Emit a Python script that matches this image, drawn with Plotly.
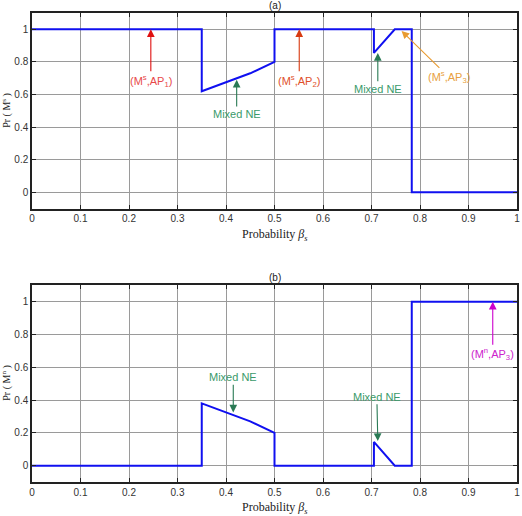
import plotly.graph_objects as go

# ---- data ----
beta_a = [0.0, 0.35, 0.35, 0.40, 0.45, 0.50, 0.50, 0.705, 0.705, 0.748, 0.783, 0.783, 1.0]
pr_a   = [1.0, 1.0, 0.62, 0.675, 0.73, 0.80, 1.0, 1.0, 0.855, 1.0, 1.0, 0.0, 0.0]

beta_b = [0.0, 0.35, 0.35, 0.40, 0.45, 0.50, 0.50, 0.705, 0.705, 0.748, 0.783, 0.783, 1.0]
pr_b   = [0.0, 0.0, 0.38, 0.325, 0.27, 0.20, 0.0, 0.0, 0.145, 0.0, 0.0, 1.0, 1.0]

x_ticks = [0, 0.1, 0.2, 0.3, 0.4, 0.5, 0.6, 0.7, 0.8, 0.9, 1]
x_tick_labels = ["0", "0.1", "0.2", "0.3", "0.4", "0.5", "0.6", "0.7", "0.8", "0.9", "1"]
y_ticks = [0, 0.2, 0.4, 0.6, 0.8, 1]
y_tick_labels = ["0", "0.2", "0.4", "0.6", "0.8", "1"]

LINE = "#1010f0"
GRID = "#9a9a9a"
TICKFONT = dict(family="Liberation Sans, Arial", size=10, color="#333333")

fig = go.Figure()
fig.add_trace(go.Scatter(x=beta_a, y=pr_a, mode="lines", line=dict(color=LINE, width=2),
                         xaxis="x", yaxis="y", showlegend=False))
fig.add_trace(go.Scatter(x=beta_b, y=pr_b, mode="lines", line=dict(color=LINE, width=2),
                         xaxis="x2", yaxis="y2", showlegend=False))

ax_common = dict(showgrid=True, gridcolor=GRID, gridwidth=1, zeroline=False,
                 showline=True, linecolor="#222222", linewidth=1.5, mirror="ticks",
                 ticks="inside", ticklen=4, tickcolor="#222222", tickfont=TICKFONT)

fig.update_layout(
    width=522, height=516,
    margin=dict(l=32, r=3, t=13, b=34),
    paper_bgcolor="white", plot_bgcolor="white",
    xaxis=dict(domain=[0, 1], anchor="y", range=[0, 1], tickvals=x_ticks, ticktext=x_tick_labels, **ax_common),
    yaxis=dict(domain=[0.583, 1], anchor="x", range=[-0.1, 1.1], tickvals=y_ticks, ticktext=y_tick_labels, **ax_common),
    xaxis2=dict(domain=[0, 1], anchor="y2", range=[0, 1], tickvals=x_ticks, ticktext=x_tick_labels, **ax_common),
    yaxis2=dict(domain=[0, 0.419], anchor="x2", range=[-0.1, 1.1], tickvals=y_ticks, ticktext=y_tick_labels, **ax_common),
)

ann = []
SERIF = "Liberation Serif, Times New Roman"
SANS = "Liberation Sans, Arial"

# titles and axis labels
for xr, yr, ttl, ylab in [("x", "y", "(a)", "Pr ( M<sup>s</sup> )"), ("x2", "y2", "(b)", "Pr ( M<sup>n</sup> )")]:
    ann.append(dict(text=ttl, xref=xr + " domain", yref=yr + " domain", x=0.5, y=1, yshift=8,
                    xanchor="center", yanchor="middle",
                    showarrow=False, font=dict(family=SANS, size=10, color="#222222")))
    ann.append(dict(text="Probability <i>β</i><sub><i>s</i></sub>", xref=xr + " domain", yref=yr + " domain",
                    x=0.5, y=0, yshift=-26, xanchor="center", yanchor="middle", showarrow=False,
                    font=dict(family=SERIF, size=12, color="#222222")))
    ann.append(dict(text=ylab, xref=xr + " domain", yref=yr + " domain", x=0, xshift=-25, y=0.5,
                    xanchor="center", yanchor="middle",
                    textangle=-90, showarrow=False, font=dict(family=SERIF, size=10, color="#222222")))

def arrow(xr, yr, x, y, ax, ay, text, tcolor, acolor):
    return dict(text=text, xref=xr, yref=yr, x=x, y=y, ax=ax, ay=ay, axref=xr, ayref=yr,
                showarrow=True, arrowhead=2, arrowsize=1.4, arrowwidth=1.1, arrowcolor=acolor,
                standoff=0, startstandoff=0,
                font=dict(family=SANS, size=11, color=tcolor))

ann.append(arrow("x", "y", 0.245, 1.0, 0.245, 0.685, "(M<sup>s</sup>,AP<sub>1</sub>)", "#e84a4a", "#e01010"))
ann.append(arrow("x", "y", 0.422, 0.69, 0.422, 0.48, "Mixed NE", "#3a9a6a", "#2a7a55"))
ann.append(arrow("x", "y", 0.551, 1.0, 0.551, 0.685, "(M<sup>s</sup>,AP<sub>2</sub>)", "#e0502a", "#d83a10"))
ann.append(arrow("x", "y", 0.713, 0.855, 0.713, 0.635, "Mixed NE", "#3a9a6a", "#2a7a55"))
ann.append(arrow("x", "y", 0.762, 0.99, 0.86, 0.705, "(M<sup>s</sup>,AP<sub>3</sub>)", "#e8a040", "#e89a30"))

ann.append(arrow("x2", "y2", 0.415, 0.325, 0.415, 0.54, "Mixed NE", "#3a9a6a", "#2a7a55"))
ann.append(arrow("x2", "y2", 0.713, 0.15, 0.711, 0.42, "Mixed NE", "#3a9a6a", "#2a7a55"))
ann.append(arrow("x2", "y2", 0.95, 1.0, 0.95, 0.68, "(M<sup>n</sup>,AP<sub>3</sub>)", "#cc22cc", "#cc00cc"))

fig.update_layout(annotations=ann)
fig.write_html("out.html")
